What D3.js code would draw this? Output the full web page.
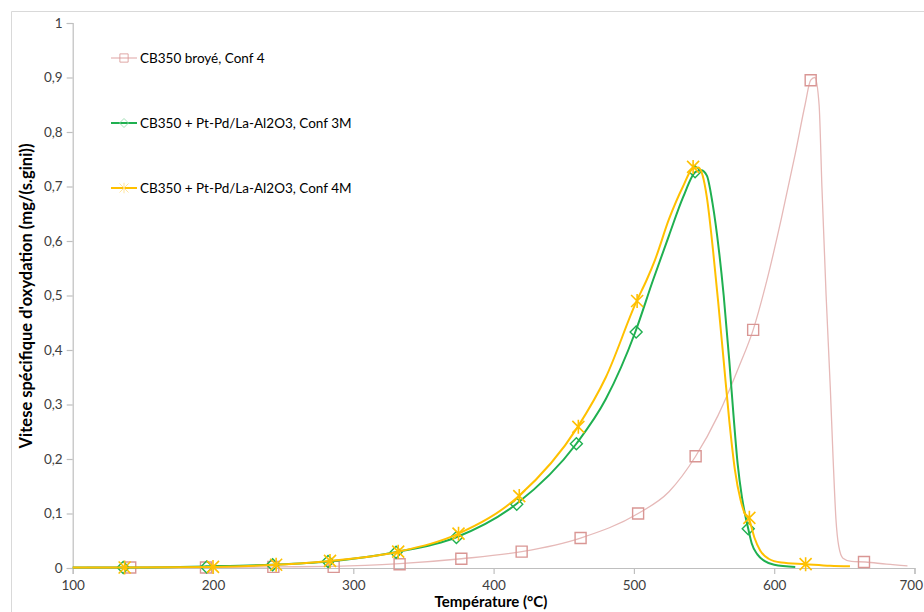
<!DOCTYPE html>
<html><head><meta charset="utf-8">
<script src="https://cdn.jsdelivr.net/npm/d3@7"></script>
<style>
body{margin:0;background:#fff;}
svg{font-family:Lato,"Open Sans",sans-serif;}
</style></head>
<body>
<svg id="chart" width="924" height="612"></svg>
<script>
// ---- DATA ----
const seriesNames = ["CB350 broyé, Conf 4", "CB350 + Pt-Pd/La-Al2O3, Conf 3M", "CB350 + Pt-Pd/La-Al2O3, Conf 4M"];
const xTicks = [100, 200, 300, 400, 500, 600, 700];
const yTicks = [0, 0.1, 0.2, 0.3, 0.4, 0.5, 0.6, 0.7, 0.8, 0.9, 1];

// Conf 4 (pink) - line
const conf4T = [110,140,195,243,286,333,377,420,462,503,525,544,560,575,585,595,605,615,622,626,629,632,634,637,640,642,644,646,649,655,665,680,695];
const conf4V = [0.001,0.001,0.001,0.002,0.003,0.008,0.017,0.030,0.055,0.100,0.140,0.205,0.280,0.370,0.437,0.530,0.640,0.760,0.850,0.895,0.900,0.850,0.700,0.500,0.330,0.200,0.090,0.040,0.018,0.012,0.011,0.007,0.004];
const conf4MarkT = [141,195,243,286,333,377,420,462,503,544,585,626,664];
const conf4MarkV = [0.001,0.001,0.002,0.002,0.007,0.017,0.030,0.055,0.100,0.205,0.437,0.895,0.011];

// Conf 3M (green) - line
const conf3MT = [100,136,195,242,282,330,373,416,459,480,501,513.6,525,535,544,548,552,556,560.6,564,568,571,574,577,579.5,581.5,584,588,593,600,615];
const conf3MV = [0.001,0.001,0.003,0.006,0.012,0.029,0.056,0.117,0.228,0.310,0.433,0.528,0.610,0.680,0.727,0.730,0.720,0.670,0.583,0.500,0.380,0.280,0.190,0.130,0.095,0.072,0.045,0.025,0.013,0.006,0.002];
const conf3MMarkT = [136,195.5,242.5,282,330.5,373.5,416.5,459,501.6,543.6,581.5];
const conf3MMarkV = [0.001,0.002,0.006,0.012,0.029,0.056,0.117,0.228,0.433,0.727,0.072];

// Conf 4M (yellow) - line
const conf4MT = [100,137,200,245,283,332,375,418,460,480,502,509,515,525,535,542,546,549,552,556.4,560,564,568,572,576,579,582.3,586,590,596,605,622.4,640,654];
const conf4MV = [0.001,0.001,0.002,0.006,0.013,0.030,0.063,0.132,0.259,0.350,0.490,0.528,0.565,0.640,0.700,0.733,0.735,0.720,0.680,0.583,0.490,0.380,0.270,0.180,0.125,0.100,0.088,0.055,0.032,0.017,0.010,0.007,0.004,0.003];
const conf4MMarkT = [137,200,245,283.4,332,375,418.3,460.4,502.3,542.2,582.3,622.4];
const conf4MMarkV = [0.001,0.002,0.006,0.013,0.030,0.063,0.132,0.259,0.490,0.736,0.092,0.007];

const xLabel = "Température (°C)";
const yLabel = "Vitese spécifique d'oxydation (mg/(s.gini))";

// ---- DRAW ----
const svg = d3.select("#chart");
const x = d3.scaleLinear().domain([100, 700]).range([72.7, 914.5]);
const y = d3.scaleLinear().domain([0, 1]).range([568, 23]);
const fmt = d => d3.format(".1~f")(d).replace(".", ",");

// outer frame
svg.append("line").attr("x1",11.5).attr("x2",11.5).attr("y1",11.5).attr("y2",612).attr("stroke","#d9d9d9");
svg.append("line").attr("x1",11.5).attr("x2",924).attr("y1",11.5).attr("y2",11.5).attr("stroke","#d9d9d9");

const axisColor = "#bfbfbf";
const gx = svg.append("g").attr("transform","translate(0,568)")
  .call(d3.axisBottom(x).tickValues(xTicks).tickSize(6).tickPadding(6).tickFormat(d3.format("d")));
const gy = svg.append("g").attr("transform","translate(72.7,0)")
  .call(d3.axisLeft(y).tickValues(yTicks).tickSize(6).tickPadding(4).tickFormat(fmt));
[gx, gy].forEach(g => {
  g.select(".domain").attr("stroke", axisColor).attr("stroke-width",1.2);
  g.selectAll(".tick line").attr("stroke", axisColor).attr("stroke-width",1.2);
  g.selectAll(".tick text").attr("fill","#404040").style("font-size","13.5px").style("font-family","Lato, sans-serif");
});
// keep the last x label inside the picture
gx.selectAll(".tick text").filter(d => d === 700).attr("text-anchor","end").attr("dx", 8);

svg.append("text").attr("x",491).attr("y",607).attr("text-anchor","middle")
  .style("font-weight","bold").style("font-size","15px").attr("fill","#000").text(xLabel);
svg.append("text").attr("transform","translate(32,296) rotate(-90)").attr("text-anchor","middle")
  .style("font-weight","bold").style("font-size","16.5px").attr("fill","#000").text(yLabel);

const line = d3.line().x(d => x(d[0])).y(d => y(d[1])).curve(d3.curveMonotoneX);
const zip = (a, b) => a.map((v, i) => [v, b[i]]);

const series = [
  {T: conf4T, V: conf4V, mT: conf4MarkT, mV: conf4MarkV, color: "#e6b9b8", mColor: "#d99694", width: 1.3, marker: "square"},
  {T: conf3MT, V: conf3MV, mT: conf3MMarkT, mV: conf3MMarkV, color: "#1fb050", mColor: "#1fb050", width: 2, marker: "diamond"},
  {T: conf4MT, V: conf4MV, mT: conf4MMarkT, mV: conf4MMarkV, color: "#ffc000", mColor: "#ffc000", width: 2, marker: "star"}
];

function markerPath(type, cx, cy) {
  if (type === "square") { const s = 5.5; return `M${cx-s},${cy-s}h${2*s}v${2*s}h${-2*s}Z`; }
  if (type === "diamond") { const s = 6; return `M${cx},${cy-s}L${cx+s},${cy}L${cx},${cy+s}L${cx-s},${cy}Z`; }
  const s = 6; // asterisk
  return `M${cx-s},${cy-s}L${cx+s},${cy+s}M${cx+s},${cy-s}L${cx-s},${cy+s}M${cx},${cy-s-1}L${cx},${cy+s+1}`;
}

series.forEach(s => {
  svg.append("path").datum(zip(s.T, s.V)).attr("d", line)
    .attr("fill","none").attr("stroke", s.color).attr("stroke-width", s.width);
  svg.append("g").selectAll("path").data(zip(s.mT, s.mV)).join("path")
    .attr("d", d => markerPath(s.marker, x(d[0]), y(d[1])))
    .attr("fill","none").attr("stroke", s.mColor).attr("stroke-width", s.marker === "star" ? 1.6 : 1.4);
});

// legend
const legY = [58, 123, 188];
series.forEach((s, i) => {
  const g = svg.append("g");
  g.append("line").attr("x1",111).attr("x2",137).attr("y1",legY[i]).attr("y2",legY[i])
    .attr("stroke", s.color).attr("stroke-width", s.width);
  g.append("path").attr("d", markerPath(s.marker, 124, legY[i]))
    .attr("fill","none").attr("stroke", s.marker === "diamond" ? "#8fd9a8" : (s.marker === "star" ? "#ffe08a" : s.mColor)).attr("stroke-width",1.1)
    .attr("transform", `translate(124,${legY[i]}) scale(0.75) translate(-124,${-legY[i]})`);
  g.append("text").attr("x",140).attr("y",legY[i]+4.5).style("font-size","13.5px").attr("fill","#000").text(seriesNames[i]);
});
</script>
</body></html>
